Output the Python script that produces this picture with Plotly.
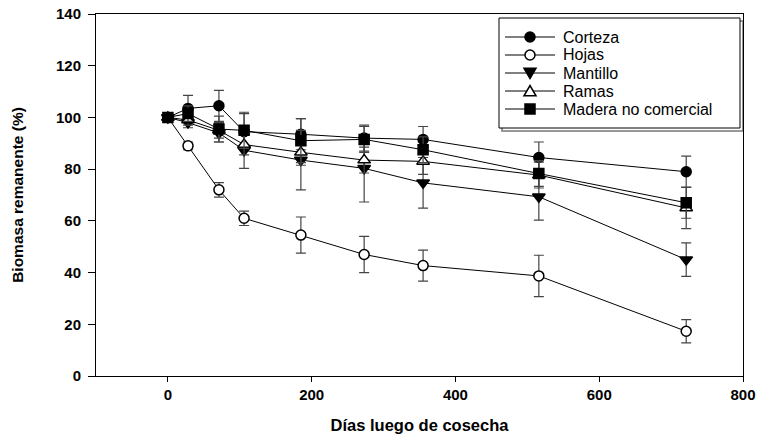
import plotly.graph_objects as go

days = [0, 28, 71, 106, 185, 273, 355, 516, 721]

corteza = [100, 103.5, 104.5, 94.5, 93.5, 92, 91.5, 84.5, 79]
corteza_err = [1, 5, 6, 7, 6, 5, 5, 6, 6]

hojas = [100, 89, 72, 61, 54.5, 47, 42.7, 38.7, 17.3]
hojas_err = [1, 1.5, 2.8, 2.8, 7, 7, 6, 8, 4.5]

mantillo = [100, 98, 94, 87.3, 83.5, 80.3, 74.7, 69.3, 45]
mantillo_err = [1, 2, 3.5, 7, 11.5, 13, 9.8, 9, 6.5]

ramas = [100, 99, 95, 89.5, 86.5, 83.5, 83, 77.7, 65]
ramas_err = [1, 2, 3, 4, 5, 5, 5, 5, 8]

madera = [100, 101.5, 95.5, 95, 91, 91.5, 87.5, 78.3, 67]
madera_err = [1, 3, 5, 7, 8.5, 5, 5, 5, 6]

x_ticks = [0, 200, 400, 600, 800]
y_ticks = [0, 20, 40, 60, 80, 100, 120, 140]

# name, values, errors, symbol, fill, marker size
series = [
    ("Corteza", corteza, corteza_err, "circle", "black", 10),
    ("Hojas", hojas, hojas_err, "circle", "white", 10),
    ("Mantillo", mantillo, mantillo_err, "triangle-down", "black", 11),
    ("Ramas", ramas, ramas_err, "triangle-up", "white", 11),
    ("Madera no comercial", madera, madera_err, "square", "black", 10),
]

FONT = "Arial, Liberation Sans, sans-serif"

W, H = 760, 441
L, R, T, B = 96, 17, 14, 65
PW, PH = W - L - R, H - T - B

fig = go.Figure()
for name, vals, errs, sym, fill, msize in series:
    fig.add_trace(go.Scatter(
        x=days, y=vals, name=name, mode="lines+markers",
        line=dict(color="black", width=1),
        marker=dict(symbol=sym, size=msize, color=fill,
                    line=dict(color="black", width=1.5)),
        error_y=dict(type="data", array=errs, visible=True,
                     color="#444444", thickness=1.2, width=5),
        showlegend=False,
    ))

fig.update_layout(
    width=W, height=H,
    margin=dict(l=L, r=R, t=T, b=B, autoexpand=False),
    paper_bgcolor="white", plot_bgcolor="white",
    font=dict(family=FONT, color="black"),
    showlegend=False,
    xaxis=dict(range=[-100, 800], tickvals=x_ticks, ticks="outside", ticklen=5,
               tickcolor="black", showline=True, linecolor="black", linewidth=1,
               mirror=True, showgrid=False, zeroline=False, automargin=False,
               tickfont=dict(size=15, family=FONT, weight="bold"),
               title=dict(text="Días luego de cosecha", standoff=17,
                          font=dict(size=16.5, family=FONT, weight="bold"))),
    yaxis=dict(range=[0, 140], tickvals=y_ticks, ticks="outside", ticklen=7,
               tickcolor="black", showline=True, linecolor="black", linewidth=1,
               mirror=True, showgrid=False, zeroline=False, automargin=False,
               ticklabelstandoff=4,
               tickfont=dict(size=15, family=FONT, weight="bold"),
               title=dict(text="Biomasa remanente (%)", standoff=28,
                          font=dict(size=15.5, family=FONT, weight="bold"))),
)

# ---- hand-built legend (pixel layout -> paper coords) ----
def px_x(p):
    return (p - L) / PW

def px_y(p):
    return 1 - (p - T) / PH

# frame with shadow
fig.add_shape(type="rect", xref="paper", yref="paper",
              x0=px_x(502), x1=px_x(743), y0=px_y(131), y1=px_y(21),
              line=dict(color="#777777", width=1.5), fillcolor="rgba(0,0,0,0)", layer="below")
fig.add_shape(type="rect", xref="paper", yref="paper",
              x0=px_x(499), x1=px_x(740), y0=px_y(128), y1=px_y(18),
              line=dict(color="black", width=1), fillcolor="white", layer="below")

LEG_TOP, LEG_STEP = 37, 18
SYM_X, LINE_X0, LINE_X1, TEXT_X = 530, 505, 555, 561
for i, (name, vals, errs, sym, fill, msize) in enumerate(series):
    yc = LEG_TOP + i * LEG_STEP
    fig.add_shape(type="line", xref="paper", yref="paper",
                  x0=px_x(LINE_X0), x1=px_x(LINE_X1), y0=px_y(yc), y1=px_y(yc),
                  line=dict(color="black", width=1))
    r = 5
    style = dict(xref="paper", yref="paper", fillcolor=fill,
                 line=dict(color="black", width=1.5))
    if sym == "circle":
        fig.add_shape(type="circle", x0=px_x(SYM_X - r), x1=px_x(SYM_X + r),
                      y0=px_y(yc + r), y1=px_y(yc - r), **style)
    elif sym == "square":
        fig.add_shape(type="rect", x0=px_x(SYM_X - r), x1=px_x(SYM_X + r),
                      y0=px_y(yc + r), y1=px_y(yc - r), **style)
    else:
        s = 6
        if sym == "triangle-down":
            pts = [(SYM_X - s, yc - s * 0.8), (SYM_X + s, yc - s * 0.8), (SYM_X, yc + s * 0.9)]
        else:
            pts = [(SYM_X - s, yc + s * 0.8), (SYM_X + s, yc + s * 0.8), (SYM_X, yc - s * 0.9)]
        path = "M " + " L ".join(f"{px_x(a):.5f},{px_y(b):.5f}" for a, b in pts) + " Z"
        fig.add_shape(type="path", path=path, **style)
    fig.add_annotation(xref="paper", yref="paper", x=px_x(TEXT_X), y=px_y(yc),
                       xanchor="left", yanchor="middle", text=name, showarrow=False,
                       font=dict(size=16, family=FONT, color="black"))

fig.write_html("out.html")
